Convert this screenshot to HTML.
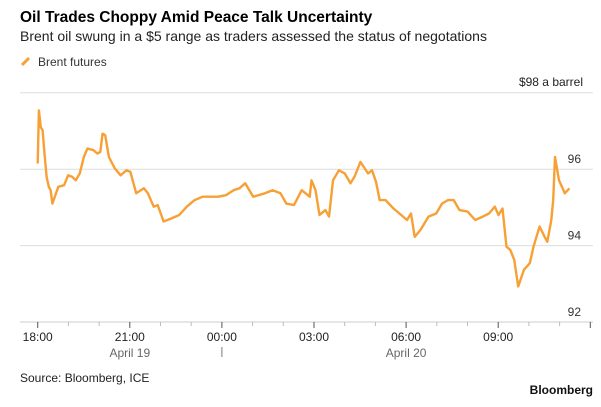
<!DOCTYPE html>
<html><head><meta charset="utf-8"><style>
body{margin:0;background:#fff;font-family:"Liberation Sans",Arial,sans-serif;}
svg text{font-family:"Liberation Sans",Arial,sans-serif;}
</style></head><body>
<svg width="601" height="402" viewBox="0 0 601 402">
<text x="20" y="22" font-size="15.5" font-weight="bold" fill="#000">Oil Trades Choppy Amid Peace Talk Uncertainty</text>
<text x="20" y="41" font-size="14" fill="#222">Brent oil swung in a $5 range as traders assessed the status of negotations</text>
<line x1="22" y1="65" x2="29" y2="58" stroke="#f7a035" stroke-width="3"/>
<text x="38" y="66" font-size="12" fill="#333">Brent futures</text>
<text x="583" y="86" font-size="12" fill="#222" text-anchor="end">$98 a barrel</text>
<g id="grid"></g><g id="axis"></g><g id="series"></g>
<text x="20" y="382" font-size="12" fill="#222">Source: Bloomberg, ICE</text>
<text x="593" y="394" font-size="12" font-weight="bold" fill="#111" text-anchor="end">Bloomberg</text>
</svg>
<script>
const hours=[0,0.04,0.10,0.16,0.23,0.29,0.36,0.42,0.48,0.67,0.86,0.99,1.12,1.24,1.37,1.50,1.62,1.81,1.94,2.04,2.11,2.20,2.32,2.51,2.70,2.89,3.02,3.21,3.46,3.59,3.78,3.91,4.10,4.35,4.61,4.86,5.11,5.37,5.62,5.88,6.13,6.38,6.57,6.76,7.02,7.40,7.65,7.91,8.10,8.35,8.60,8.86,8.92,9.05,9.18,9.37,9.49,9.62,9.81,10.0,10.19,10.32,10.51,10.76,10.89,11.02,11.14,11.33,11.59,11.84,12.03,12.16,12.28,12.47,12.73,12.98,13.17,13.36,13.55,13.74,14.0,14.25,14.5,14.7,14.89,15.01,15.14,15.27,15.39,15.52,15.65,15.84,16.03,16.15,16.35,16.51,16.6,16.73,16.79,16.85,16.98,17.17,17.32];
const prices=[96.15,97.54,97.10,97.02,96.32,95.80,95.54,95.45,95.10,95.54,95.58,95.84,95.80,95.71,95.89,96.32,96.54,96.50,96.41,96.45,96.93,96.89,96.32,96.02,95.84,95.97,95.93,95.37,95.50,95.37,95.02,95.06,94.63,94.71,94.80,95.02,95.19,95.28,95.28,95.28,95.32,95.45,95.50,95.63,95.28,95.37,95.45,95.37,95.10,95.06,95.45,95.28,95.71,95.45,94.80,94.93,94.76,95.71,95.97,95.89,95.63,95.80,96.19,95.89,95.97,95.67,95.19,95.19,94.97,94.80,94.67,94.84,94.23,94.41,94.76,94.84,95.10,95.19,95.19,94.93,94.89,94.67,94.76,94.84,95.02,94.80,94.97,93.97,93.89,93.63,92.93,93.37,93.54,93.97,94.50,94.23,94.10,94.67,95.19,96.32,95.71,95.37,95.50,95.63];
const yTicks=[92,94,96,98];
const xTickLabels=["18:00","21:00","00:00","03:00","06:00","09:00"];
const dateLabels=[{h:3,t:"April 19"},{h:12,t:"April 20"}];
const NS="http://www.w3.org/2000/svg";
const xS=h=>37.7+h*30.7;
const yS=v=>322-(v-92)*38.2;
function mk(tag,attrs,parent,text){const e=document.createElementNS(NS,tag);for(const k in attrs)e.setAttribute(k,attrs[k]);if(text!==undefined)e.textContent=text;document.getElementById(parent).appendChild(e);return e;}
yTicks.forEach(v=>{
  const l=mk('line',{x1:20,x2:593,y1:yS(v),y2:yS(v),stroke:v===92?'#ccc':'#ddd','stroke-width':1},'grid');
  
  
  if(v<98){const t=mk('text',{x:581,y:yS(v)-6,'font-size':12,fill:'#333','text-anchor':'end'},'grid',String(v));
  
  }
});
for(let h=0;h<=18;h++){
  const major=h%3===0;
  const l=mk('line',{x1:xS(h),x2:xS(h),y1:322,y2:major?328:326,stroke:major?'#555':'#bbb','stroke-width':1},'axis');
  
  
}
xTickLabels.forEach((s,i)=>{
  const t=mk('text',{x:xS(i*3),y:341,'font-size':12,fill:'#222','text-anchor':'middle'},'axis',s);
  
  
});
dateLabels.forEach(d=>{
  const t=mk('text',{x:xS(d.h),y:357,'font-size':12,fill:'#666','text-anchor':'middle'},'axis',d.t);
  
  
});
const dv=mk('line',{x1:xS(6),x2:xS(6),y1:347,y2:357,stroke:'#777'},'axis');


let d='';hours.forEach((h,i)=>{d+=(i?'L':'M')+xS(h).toFixed(1)+','+yS(prices[i]).toFixed(1);});
const p=mk('path',{d:d,fill:'none',stroke:'#f7a035','stroke-width':2.4,'stroke-linejoin':'round'},'series');


</script>
</body></html>
